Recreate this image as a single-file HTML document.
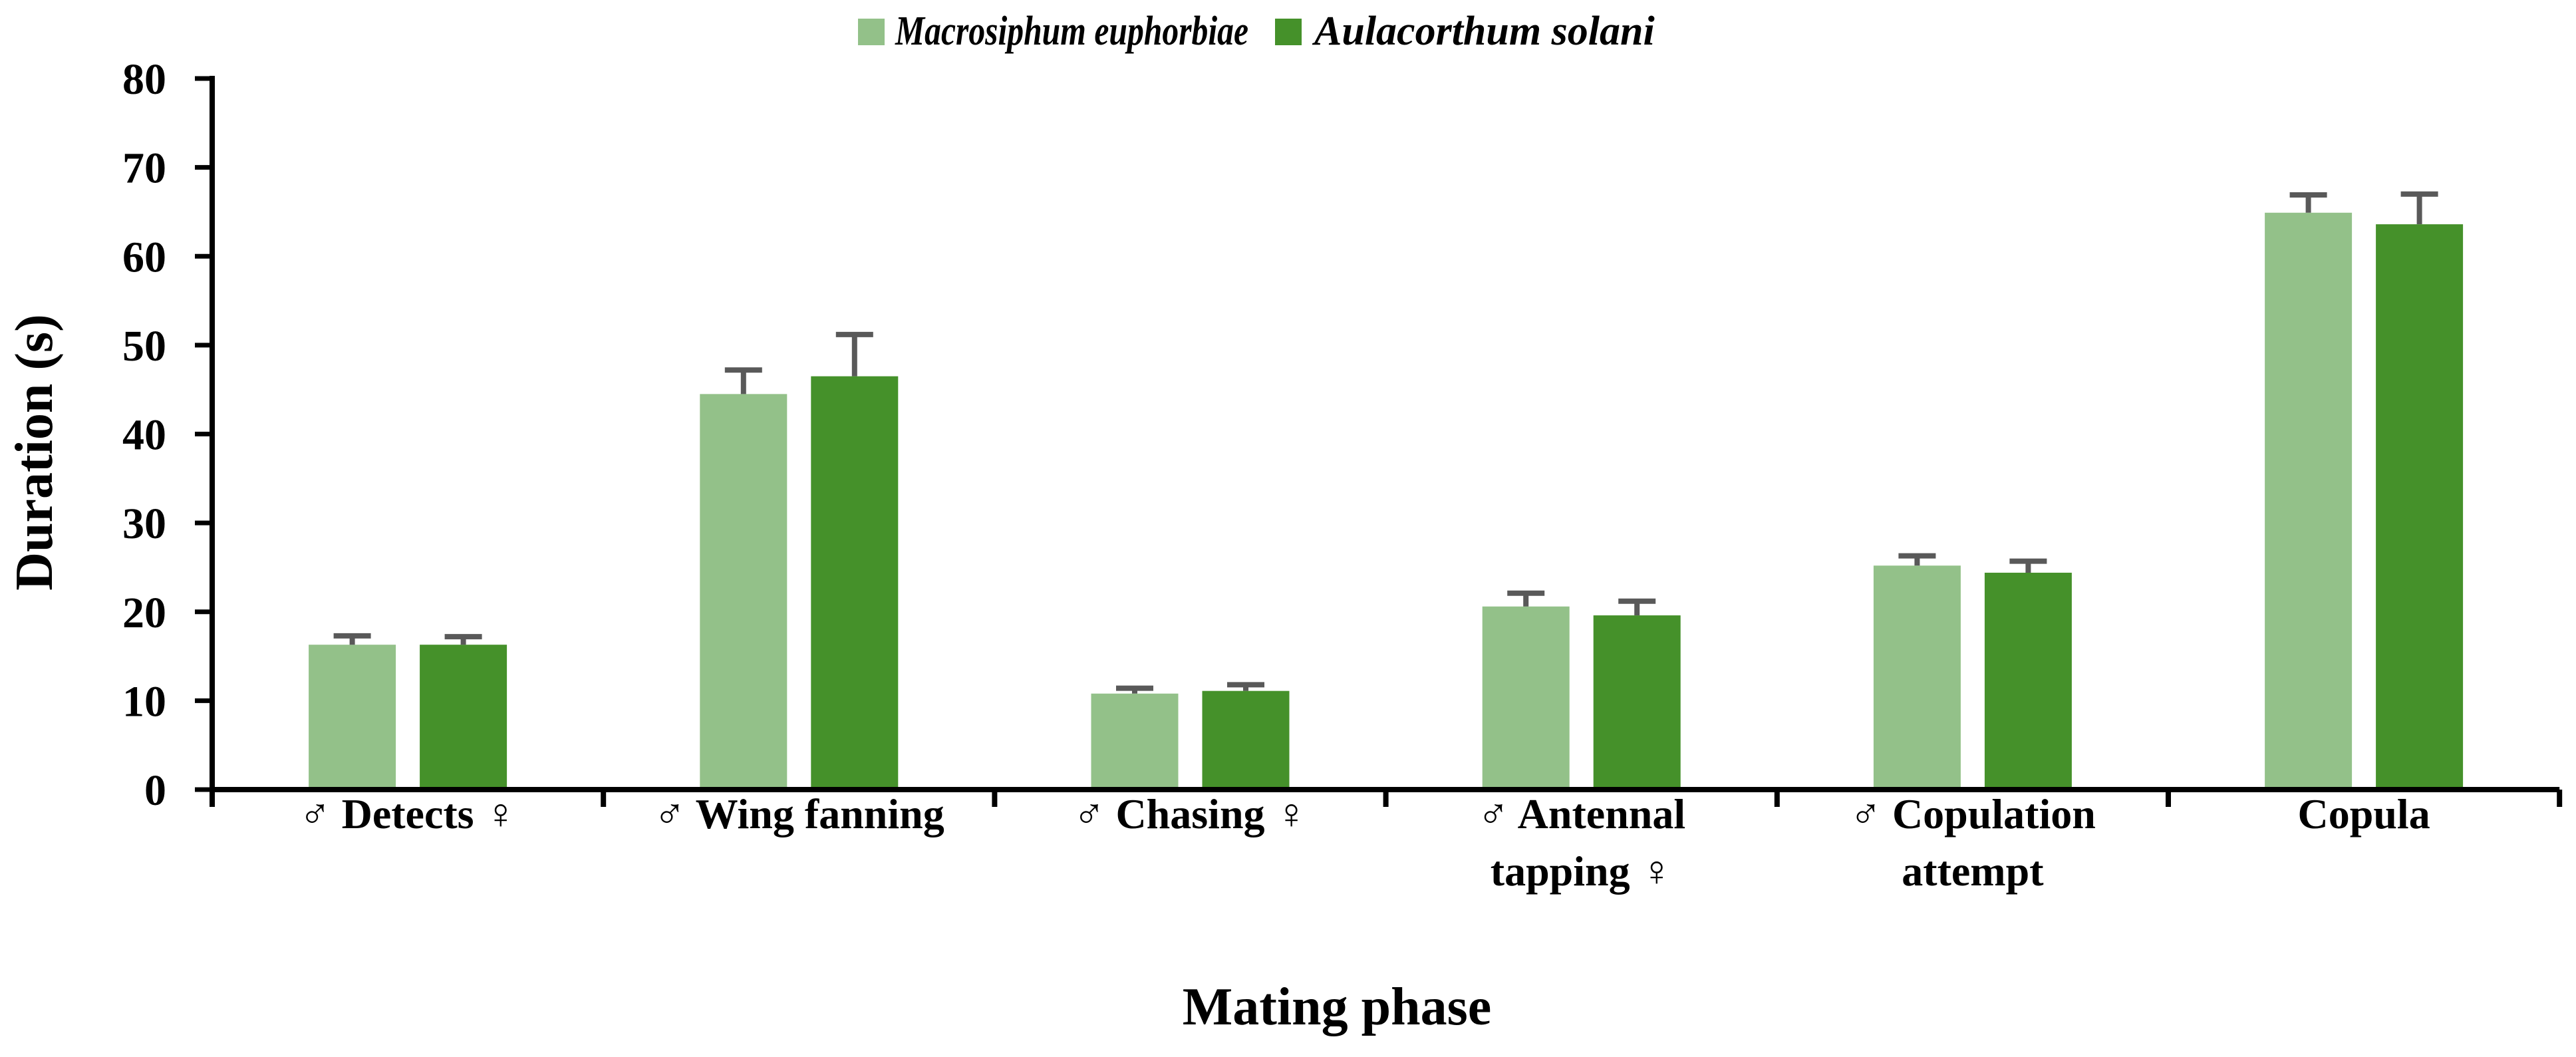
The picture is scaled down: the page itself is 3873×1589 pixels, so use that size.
<!DOCTYPE html>
<html><head><meta charset="utf-8"><style>
body{margin:0;background:#fff}
svg{display:block;font-family:"Liberation Serif","DejaVu Serif",serif;font-weight:bold}
</style></head><body>
<svg id="chart" width="3873" height="1589" viewBox="0 0 3873 1589">
<g id="legend">
<rect x="1290" y="28" width="40" height="40" fill="#93c189"/>
<text x="1346" y="67" font-size="62" font-style="italic" textLength="531" lengthAdjust="spacingAndGlyphs">Macrosiphum euphorbiae</text>
<rect x="1917" y="28" width="40" height="40" fill="#45912a"/>
<text x="1976" y="67" font-size="62" font-style="italic">Aulacorthum solani</text>
</g>
<text transform="translate(78,680) rotate(-90)" text-anchor="middle" font-size="80">Duration (s)</text>
<text x="2010" y="1540" text-anchor="middle" font-size="80">Mating phase</text>
<g id="plot"></g>
</svg>
<script>
const categories=[["♂ Detects ♀"],["♂ Wing fanning"],["♂ Chasing ♀"],["♂ Antennal","tapping ♀"],["♂ Copulation","attempt"],["Copula"]];
const seriesA=[16.3,44.5,10.8,20.6,25.2,64.9];
const errA=[1.0,2.7,0.6,1.5,1.1,2.0];
const seriesB=[16.3,46.5,11.1,19.6,24.4,63.6];
const errB=[0.9,4.7,0.7,1.6,1.3,3.4];
const yTicks=[0,10,20,30,40,50,60,70,80];
const NS='http://www.w3.org/2000/svg';
const x0=319,catW=588.2,y0=1187,yMax=80,plotH=1069;
function y(v){return y0-v/yMax*plotH;}
function xc(i){return x0+catW*(i+0.5);}
const g=document.getElementById('plot');
function mk(t,a){const e=document.createElementNS(NS,t);for(const k in a)e.setAttribute(k,a[k]);g.appendChild(e);return e;}
const bw=131,gap=36;
function bars(vals,errs,off,color,nm){
 vals.forEach((v,i)=>{
  const cx=xc(i)+off;
  const r=mk('rect',{x:cx-bw/2,y:y(v),width:bw,height:y0-y(v),fill:color});
  
  
  const ee=mk('path',{d:`M${cx},${y(v)}V${y(v+errs[i])}M${cx-28},${y(v+errs[i])}H${cx+28}`,stroke:'#595959','stroke-width':8,fill:'none'});
  
  
 });
}
bars(seriesA,errA,-(bw+gap)/2,'#93c189','macrosiphum');
bars(seriesB,errB,(bw+gap)/2,'#45912a','aulacorthum');
const ax=mk('path',{d:`M${x0},${y(80)-4}V${y0}H${x0+catW*6}`,stroke:'#000','stroke-width':8,fill:'none'});


yTicks.forEach(t=>{
 const tk=mk('line',{x1:x0-26,x2:x0,y1:y(t),y2:y(t),stroke:'#000','stroke-width':7});
 
 
 const tl=mk('text',{x:250,y:y(t)+23,'text-anchor':'end','font-size':66});
 tl.textContent=t;
 
 
});
for(let i=0;i<=6;i++){
 const tk=mk('line',{x1:x0+catW*i,x2:x0+catW*i,y1:y0,y2:y0+26,stroke:'#000','stroke-width':8});
 
 
}
categories.forEach((lines,i)=>{
 lines.forEach((l,j)=>{
  const t=mk('text',{x:xc(i),y:1245+j*86,'text-anchor':'middle','font-size':64});
  t.textContent=l;
  
  
 });
});
</script>
</body></html>
